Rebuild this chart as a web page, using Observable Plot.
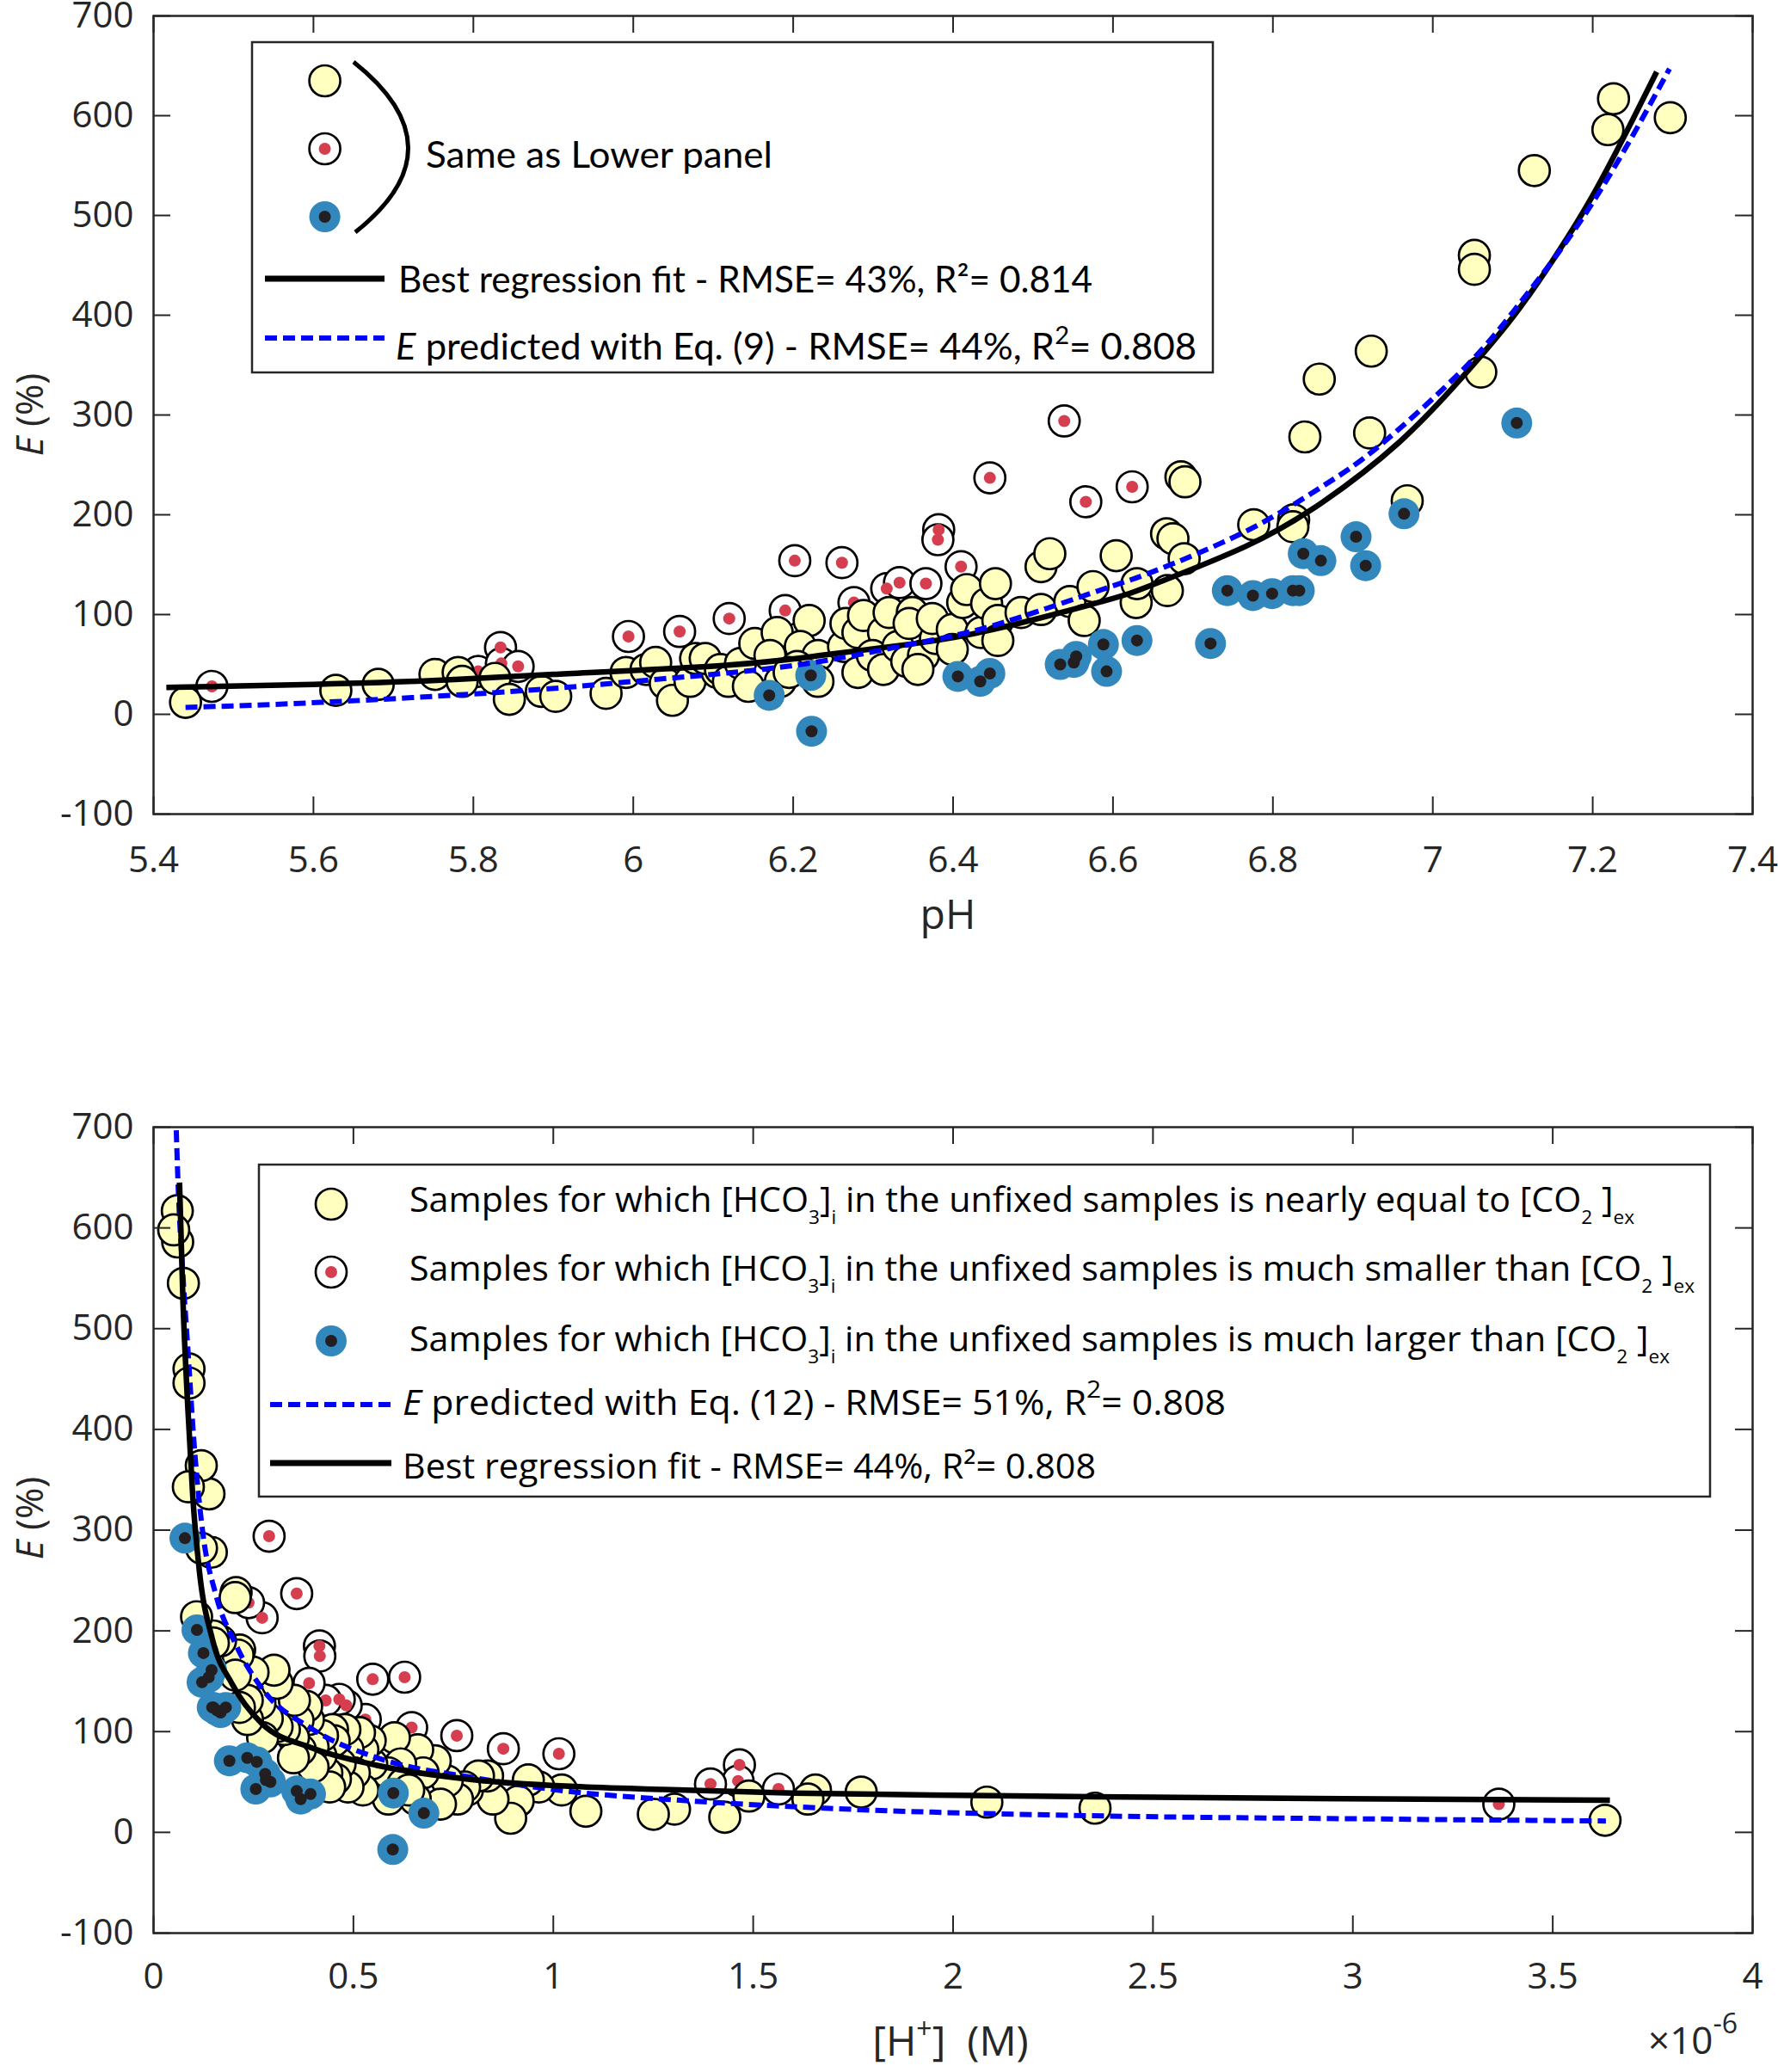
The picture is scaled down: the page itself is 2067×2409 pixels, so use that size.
<!DOCTYPE html>
<html><head><meta charset="utf-8">
<script src="https://cdn.jsdelivr.net/npm/d3@7"></script>
<script src="https://cdn.jsdelivr.net/npm/@observablehq/plot@0.6"></script>
<style>
html,body{margin:0;padding:0;background:#fff;overflow:hidden;width:2067px;height:2409px}
#chart svg{display:block}
</style></head><body><div id="chart"></div>
<script>
// ---------- data ----------
const yellowPH = [5.44, 5.628, 5.681, 5.752, 5.781, 5.786, 5.827, 5.845, 5.885, 5.903, 5.966, 5.991, 6.016, 6.028, 6.04, 6.049, 6.071, 6.078, 6.105, 6.09, 6.109, 6.119, 6.134, 6.152, 6.144, 6.18, 6.171, 6.184, 6.22, 6.209, 6.231, 6.231, 6.205, 6.195, 6.263, 6.266, 6.281, 6.288, 6.281, 6.313, 6.299, 6.32, 6.313, 6.331, 6.349, 6.345, 6.342, 6.363, 6.356, 6.378, 6.374, 6.399, 6.399, 6.412, 6.417, 6.435, 6.442, 6.453, 6.456, 6.456, 6.485, 6.51, 6.546, 6.564, 6.575, 6.51, 6.521, 6.604, 6.629, 6.63, 6.668, 6.667, 6.675, 6.685, 6.69, 6.689, 6.776, 6.826, 6.825, 6.84, 6.858, 6.921, 6.923, 6.968, 7.052, 7.052, 7.06, 7.127, 7.219, 7.226, 7.297];
const yellowE = [12, 24, 30, 40, 42, 33, 36, 15, 23, 18, 21, 42, 45, 52, 31, 14, 33, 56, 42, 56, 45, 33, 51, 71, 28, 82, 59, 33, 94, 68, 59, 33, 48, 42, 68, 91, 82, 99, 42, 82, 59, 102, 45, 68, 102, 91, 53, 59, 45, 76, 96, 85, 65, 112, 125, 82, 111, 131, 94, 74, 102, 105, 113, 94, 128, 148, 161, 159, 112, 131, 124, 181, 176, 238, 233, 156, 190, 195, 188, 278, 336, 282, 364, 214, 460, 446, 343, 545, 586, 617, 598];

const redPH = [5.473, 5.806, 5.834, 5.835, 5.856, 5.994, 6.058, 6.12, 6.19, 6.202, 6.261, 6.276, 6.317, 6.333, 6.366, 6.382, 6.381, 6.41, 6.446, 6.539, 6.566, 6.624];
const redE = [28, 43, 67, 51, 48, 78, 83, 96, 104, 154, 152, 112, 126, 132, 131, 185, 175, 148, 237, 294, 213, 228];

const bluePH = [6.17, 6.222, 6.223, 6.406, 6.434, 6.446, 6.534, 6.551, 6.554, 6.588, 6.592, 6.63, 6.722, 6.743, 6.775, 6.799, 6.825, 6.833, 6.838, 6.86, 6.904, 6.916, 6.964, 7.105];
const blueE = [19, 39, -17, 38, 33, 41, 50, 52, 58, 70, 43, 74, 71, 124, 119, 121, 124, 124, 161, 154, 178, 149, 201, 292];

// upper panel curves (pH, E)
const fitPH = [5.416, 5.6, 5.754, 5.9, 6.112, 6.234, 6.349, 6.45, 6.586, 6.65, 6.765, 6.861, 6.957, 7.037, 7.1, 7.15, 7.2, 7.25, 7.28];
const fitE = [27, 30, 34, 40, 49, 59, 70.6, 85, 113, 130, 168, 212, 272, 338, 398, 455, 520, 596, 644];
const eq9PH = [5.44, 5.61, 5.85, 6.0, 6.112, 6.234, 6.349, 6.45, 6.586, 6.65, 6.765, 6.861, 6.933, 7.037, 7.1, 7.15, 7.2, 7.25, 7.296];
const eq9E = [7, 12, 23, 33, 41, 53, 70.6, 89, 125, 143, 183, 228, 269, 345, 403, 455, 513, 580, 647];

// lower panel curves ([H+] in 1e-6 M, E)
const fitH = [0.065, 0.0734, 0.0857, 0.098, 0.1145, 0.147, 0.197, 0.271, 0.395, 0.559, 0.806, 1.053, 1.274, 1.6, 2.05, 2.5, 2.976, 3.643];
const fitHE = [645, 530, 422, 334, 260, 192, 147, 108, 84, 66.5, 52, 45.5, 42.5, 39, 36.5, 34.8, 33.4, 32];
const eq12H = [0.0555, 0.061, 0.0734, 0.0857, 0.102, 0.1227, 0.1558, 0.205, 0.271, 0.395, 0.559, 0.806, 1.053, 1.274, 1.679, 2.42, 2.976, 3.633];
const eq12E = [715, 647, 554, 481, 383, 299, 236, 187, 143, 103, 74, 54, 40, 33, 24, 16, 13.6, 11.3];

// ticks
const topXTicks = [5.4, 5.6, 5.8, 6, 6.2, 6.4, 6.6, 6.8, 7, 7.2, 7.4];
const bottomXTicks = [0, 0.5, 1, 1.5, 2, 2.5, 3, 3.5, 4];
const yTicks = [-100, 0, 100, 200, 300, 400, 500, 600, 700];

// ---------- tables ----------
const toRows = (ph, e) => ph.map((p, i) => ({pH: p, H: 10 ** (6 - p), E: e[i]}));
const yellow = toRows(yellowPH, yellowE);
const red = toRows(redPH, redE);
const blue = toRows(bluePH, blueE);
const fitTop = fitPH.map((p, i) => ({x: p, E: fitE[i]}));
const eq9 = eq9PH.map((p, i) => ({x: p, E: eq9E[i]}));
const fitBot = fitH.map((h, i) => ({x: h, E: fitHE[i]}));
const eq12 = eq12H.map((h, i) => ({x: h, E: eq12E[i]}));

const C_YEL = "#FFFFBF", C_RED = "#D53E4F", C_BLUE = "#3288BD", C_DOT = "#231F20", AX = "#262626";
const FONT = "'Open Sans', sans-serif";
const W = 2067;

function panel({xKey, xDomain, xTicks, height, mt, mb, fit, eq, eqFirst, tickPad, curve}) {
  const ih = height - mt - mb, iw = W - 178 - 30;
  const fitLine = Plot.line(fit, {x: "x", y: "E", stroke: "#000", strokeWidth: 6.5, curve, clip: true, strokeLinecap: "butt"});
  const eqLine = Plot.line(eq, {x: "x", y: "E", stroke: "#0000FF", strokeWidth: 6, strokeDasharray: "14 7", strokeLinecap: "butt", curve, clip: true});
  return Plot.plot({
    width: W, height,
    marginTop: mt, marginBottom: mb, marginLeft: 178, marginRight: 30,
    x: {domain: xDomain},
    y: {domain: [-100, 700]},
    style: {fontFamily: FONT, color: AX, background: "white", overflow: "visible"},
    marks: [
      Plot.dot(red, {x: xKey, y: "E", r: 18, fill: "white", stroke: "#000", strokeWidth: 2.7}),
      Plot.dot(red, {x: xKey, y: "E", r: 7, fill: C_RED}),
      Plot.dot(yellow, {x: xKey, y: "E", r: 18, fill: C_YEL, stroke: "#000", strokeWidth: 2.7}),
      Plot.dot(blue, {x: xKey, y: "E", r: 18, fill: C_BLUE}),
      Plot.dot(blue, {x: xKey, y: "E", r: 7, fill: C_DOT}),
      ...(eqFirst ? [eqLine, fitLine] : [fitLine, eqLine]),
      Plot.tickX(xTicks, {x: d => d, insetTop: ih - 20, stroke: AX, strokeWidth: 2}),
      Plot.tickX(xTicks, {x: d => d, insetBottom: ih - 20, stroke: AX, strokeWidth: 2}),
      Plot.tickY(yTicks, {y: d => d, insetRight: iw - 20, stroke: AX, strokeWidth: 2}),
      Plot.tickY(yTicks, {y: d => d, insetLeft: iw - 20, stroke: AX, strokeWidth: 2}),
      Plot.frame({stroke: AX, strokeWidth: 2.5}),
      Plot.axisX(xTicks, {anchor: "bottom", tickSize: 0, tickPadding: tickPad, fontSize: 42, label: null, tickFormat: d => String(d)}),
      Plot.axisY(yTicks, {anchor: "left", tickSize: 0, tickPadding: 23, fontSize: 42, label: null, tickFormat: d => String(d)})
    ]
  });
}

const topSvg = panel({xKey: "pH", xDomain: [5.4, 7.4], xTicks: topXTicks, height: 1200, mt: 18, mb: 254, fit: fitTop, eq: eq9, eqFirst: false, tickPad: 38, curve: "natural"});
const botSvg = panel({xKey: "H", xDomain: [0, 4], xTicks: bottomXTicks, height: 1209, mt: 110, mb: 162, fit: fitBot, eq: eq12, eqFirst: true, tickPad: 35, curve: "monotone-x"});
document.getElementById("chart").append(topSvg, botSvg);

// ---------- text / legend helpers ----------
function richText(parent, x, y, parts, o) {
  const t = parent.append("text").attr("x", x).attr("y", y)
    .attr("font-size", o.size).attr("font-family", o.family || FONT).attr("fill", o.fill || "#000")
    .attr("text-anchor", o.anchor || "start").attr("style", "white-space:pre");
  if (o.width) t.attr("textLength", o.width).attr("lengthAdjust", "spacingAndGlyphs");
  if (o.transform) t.attr("transform", o.transform);
  let shift = 0;
  for (const p of parts) {
    const s = typeof p === "string" ? {t: p} : p;
    const ts = t.append("tspan").text(s.t);
    const target = s.sub ? (o.subDy || 12) : s.sup ? -(o.supDy || 18) : 0;
    const dy = target - shift;
    if (dy) ts.attr("dy", dy);
    shift = target;
    if (s.sub || s.sup) ts.attr("font-size", o.small || 26);
    if (s.it) ts.attr("font-style", "italic");
  }
  return t;
}
function marker(g, x, y, kind) {
  if (kind === "yellow") g.append("circle").attr("cx", x).attr("cy", y).attr("r", 18).attr("fill", C_YEL).attr("stroke", "#000").attr("stroke-width", 2.7);
  if (kind === "red") {
    g.append("circle").attr("cx", x).attr("cy", y).attr("r", 18).attr("fill", "white").attr("stroke", "#000").attr("stroke-width", 2.7);
    g.append("circle").attr("cx", x).attr("cy", y).attr("r", 7).attr("fill", C_RED);
  }
  if (kind === "blue") {
    g.append("circle").attr("cx", x).attr("cy", y).attr("r", 18).attr("fill", C_BLUE);
    g.append("circle").attr("cx", x).attr("cy", y).attr("r", 7).attr("fill", C_DOT);
  }
}
function sample(g, x1, x2, y, dashed) {
  const l = g.append("line").attr("x1", x1).attr("x2", x2).attr("y1", y).attr("y2", y);
  if (dashed) l.attr("stroke", "#0000FF").attr("stroke-width", 6).attr("stroke-dasharray", "14 7");
  else l.attr("stroke", "#000").attr("stroke-width", 7);
}

// ---------- upper panel legend + titles ----------
{
  const s = d3.select(topSvg);
  const g = s.append("g");
  g.append("rect").attr("x", 293).attr("y", 49).attr("width", 1117).attr("height", 384)
    .attr("fill", "white").attr("stroke", AX).attr("stroke-width", 2.5);
  marker(g, 377.6, 94, "yellow");
  marker(g, 377.6, 173, "red");
  marker(g, 377.6, 252, "blue");
  g.append("path").attr("d", "M411,72 Q537,172 413,270").attr("fill", "none").attr("stroke", "#000").attr("stroke-width", 5);
  richText(g, 495, 195, ["Same as Lower panel"], {size: 42, width: 403, family: "Lato, " + FONT});
  sample(g, 308, 447, 324, false);
  richText(g, 463, 340, ["Best regression fit - RMSE= 43%, R²= 0.814"], {size: 42, width: 807, family: "Lato, " + FONT});
  sample(g, 308, 447, 393, true);
  richText(g, 460, 418, [{t: "E", it: true}, " predicted with Eq. (9) - RMSE= 44%, R", {t: "2", sup: true}, "= 0.808"],
    {size: 42, width: 931, small: 28, supDy: 18, family: "Lato, " + FONT});

  richText(s, 1102, 1080, ["pH"], {size: 48, anchor: "middle", fill: AX});
  richText(s, 0, 0, [{t: "E", it: true}, " (%)"], {size: 44, anchor: "middle", fill: AX, transform: "translate(50,482) rotate(-90)"});
}

// ---------- lower panel legend + titles ----------
{
  const s = d3.select(botSvg);
  const g = s.append("g");
  g.append("rect").attr("x", 301).attr("y", 154).attr("width", 1687).attr("height", 386)
    .attr("fill", "white").attr("stroke", AX).attr("stroke-width", 2.5);
  marker(g, 385, 200, "yellow");
  marker(g, 385, 279, "red");
  marker(g, 385, 359, "blue");
  const rowOpts = {size: 40, small: 22, subDy: 14};
  richText(g, 476, 209, ["Samples for which [HCO", {t: "3", sub: true}, "]", {t: "i", sub: true}, " in the unfixed samples is nearly equal to [CO", {t: "2", sub: true}, " ]", {t: "ex", sub: true}], {...rowOpts, width: 1424});
  richText(g, 476, 289, ["Samples for which [HCO", {t: "3", sub: true}, "]", {t: "i", sub: true}, " in the unfixed samples is much smaller than [CO", {t: "2", sub: true}, " ]", {t: "ex", sub: true}], {...rowOpts, width: 1494});
  richText(g, 476, 371, ["Samples for which [HCO", {t: "3", sub: true}, "]", {t: "i", sub: true}, " in the unfixed samples is much larger than [CO", {t: "2", sub: true}, " ]", {t: "ex", sub: true}], {...rowOpts, width: 1465});
  sample(g, 314, 455, 433, true);
  richText(g, 468, 445, [{t: "E", it: true}, " predicted with Eq. (12) - RMSE= 51%, R", {t: "2", sup: true}, "= 0.808"], {size: 40, small: 28, supDy: 20, width: 957});
  sample(g, 314, 455, 501, false);
  richText(g, 468, 519, ["Best regression fit - RMSE= 44%, R²= 0.808"], {size: 40, width: 806});

  richText(s, 1105, 1190, ["[H", {t: "+", sup: true}, "]  (M)"], {size: 48, small: 32, supDy: 20, anchor: "middle", fill: AX});
  richText(s, 1916, 1188, ["×10", {t: "-6", sup: true}], {size: 44, small: 32, supDy: 24, fill: AX});
  richText(s, 0, 0, [{t: "E", it: true}, " (%)"], {size: 44, anchor: "middle", fill: AX, transform: "translate(50,565) rotate(-90)"});
}
</script></body></html>
